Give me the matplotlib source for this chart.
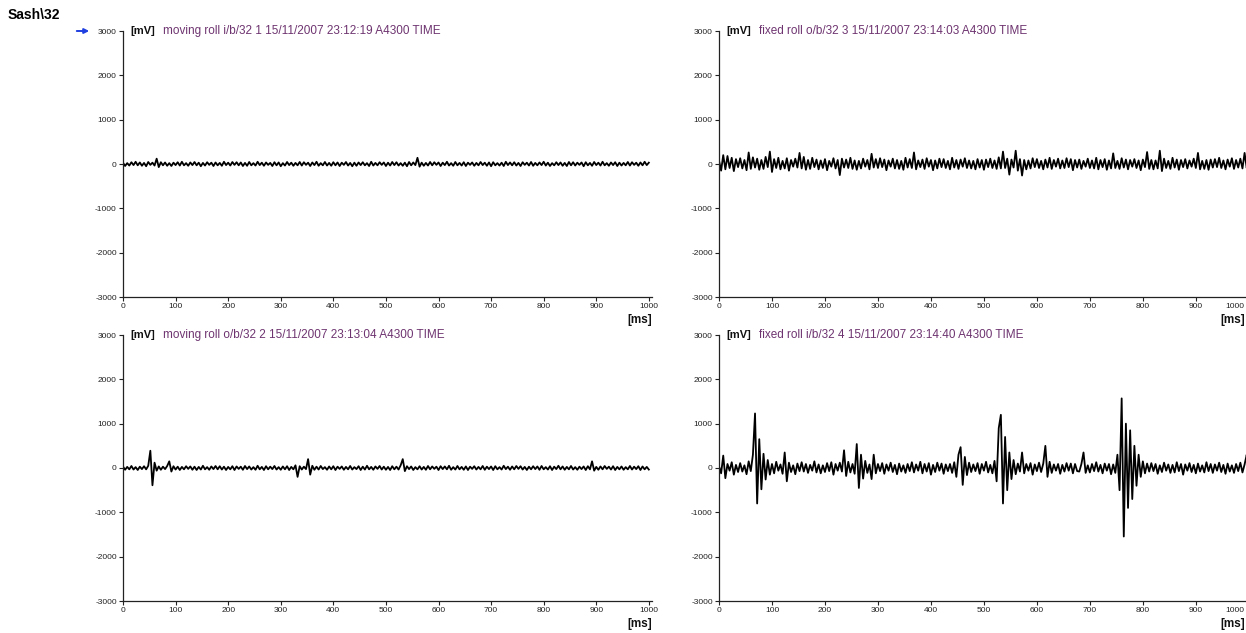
import numpy as np
import matplotlib
matplotlib.use("Agg")
import matplotlib.pyplot as plt

plt.rcParams["font.family"] = ["Liberation Sans", "DejaVu Sans"]
plt.rcParams["axes.unicode_minus"] = False

fig_title = "Sash\\32"
x_ticks = list(range(0, 1001, 100))
y_ticks = [-3000, -2000, -1000, 0, 1000, 2000, 3000]

titles = [
    "moving roll i/b/32 1 15/11/2007 23:12:19 A4300 TIME",
    "fixed roll o/b/32 3 15/11/2007 23:14:03 A4300 TIME",
    "moving roll o/b/32 2 15/11/2007 23:13:04 A4300 TIME",
    "fixed roll i/b/32 4 15/11/2007 23:14:40 A4300 TIME",
]

moving_ib_1 = [
    30, -45, 20, -35, 40, -25, 50, -30, 35, -40,
    25, -50, 45, -20, 30, -35, 120, -70, 40, -30,
    35, -40, 20, -45, 30, -25, 40, -35, 50, -30,
    20, -40, 35, -25, 45, -30, 30, -50, 25, -35,
    40, -20, 30, -45, 35, -30, 25, -40, 50, -25,
    30, -35, 45, -20, 40, -30, 35, -45, 25, -40,
    45, -30, 20, -35, 50, -25, 30, -40, 35, -20,
    25, -45, 40, -30, 35, -50, 20, -35, 45, -25,
    30, -40, 25, -30, 45, -35, 40, -20, 30, -45,
    35, -25, 50, -40, 20, -30, 45, -35, 25, -40,
    40, -30, 35, -45, 30, -20, 45, -35, 25, -50,
    30, -40, 35, -25, 40, -30, 20, -45, 50, -35,
    25, -30, 40, -20, 35, -45, 30, -35, 45, -25,
    40, -35, 20, -40, 30, -50, 45, -30, 35, -25,
    140, -60, 30, -40, 25, -35, 45, -30, 40, -20,
    35, -45, 30, -25, 50, -35, 20, -40, 45, -30,
    25, -35, 40, -45, 30, -20, 35, -40, 25, -30,
    45, -25, 30, -40, 35, -50, 40, -30, 20, -35,
    30, -45, 50, -25, 35, -30, 40, -35, 25, -45,
    40, -20, 30, -35, 45, -40, 25, -30, 35, -25,
    50, -35, 30, -45, 20, -30, 40, -25, 35, -40,
    25, -45, 45, -30, 40, -35, 30, -20, 35, -50,
    40, -30, 25, -40, 45, -25, 30, -35, 50, -30,
    20, -40, 35, -25, 40, -45, 30, -35, 25, -30,
    45, -35, 40, -20, 30, -40, 35, -30, 50, -25,
    30,
]

fixed_ob_3 = [
    80, -150, 200, -120, 180, -90, 140, -160, 110, -70,
    130, -100, 90, -140, 260, -110, 150, -80, 120, -130,
    90, -110, 160, -70, 280, -180, 110, -90, 140, -120,
    70, -100, 130, -150, 90, -60, 120, -80, 250, -100,
    160, -130, 90, -110, 140, -70, 100, -120, 80, -90,
    110, -140, 70, -60, 130, -100, 90, -250, 120, -80,
    100, -90, 140, -110, 80, -130, 70, -100, 120, -60,
    90, -120, 230, -80, 110, -90, 130, -70, 100, -140,
    80, -60, 120, -100, 90, -110, 70, -130, 140, -80,
    110, -90, 260, -120, 80, -70, 100, -110, 130, -60,
    90, -140, 80, -100, 120, -70, 110, -90, 70, -120,
    140, -80, 90, -110, 100, -60, 130, -90, 80, -100,
    70, -120, 110, -80, 90, -130, 100, -70, 120, -90,
    80, -110, 150, -100, 280, -90, 120, -240, 100, -80,
    300, -150, 110, -260, 90, -120, 80, -100, 130, -70,
    110, -90, 70, -120, 100, -80, 140, -110, 90, -60,
    120, -100, 80, -90, 130, -70, 110, -140, 90, -80,
    100, -110, 70, -60, 120, -90, 80, -100, 140, -120,
    90, -70, 110, -130, 80, -100, 240, -90, 70, -110,
    130, -80, 100, -120, 90, -60, 110, -90, 80, -140,
    100, -70, 270, -110, 90, -120, 80, -100, 300, -160,
    120, -90, 70, -110, 140, -80, 100, -130, 90, -70,
    110, -100, 80, -60, 120, -90, 250, -120, 70, -110,
    90, -130, 100, -80, 110, -70, 140, -90, 80, -120,
    100, -60, 130, -110, 90, -80, 120, -100, 250, -90,
    110,
]

moving_ob_2 = [
    35, -40, 25, -30, 45, -35, 20, -45, 30, -25,
    40, -30, 50, 390, -390, 120, -60, 35, -40, 30,
    -25, 45, 150, -80, 40, -35, 30, -45, 25, -30,
    40, -20, 35, -40, 30, -45, 25, -35, 50, -30,
    20, -40, 35, -25, 45, -30, 40, -35, 30, -45,
    25, -30, 40, -45, 35, -20, 30, -40, 45, -25,
    35, -35, 20, -40, 50, -30, 25, -45, 40, -30,
    30, -25, 45, -35, 20, -40, 35, -30, 40, -45,
    25, -30, 60, -200, 40, -35, 30, -25, 200, -150,
    50, -40, 30, -35, 45, -25, 20, -40, 35, -30,
    40, -45, 30, -20, 35, -40, 25, -30, 45, -35,
    20, -25, 40, -45, 30, -35, 50, -30, 25, -40,
    35, -20, 45, -35, 30, -40, 25, -45, 40, -30,
    30, -35, 60, 200, -70, 40, -25, 35, -45, 20,
    -30, 40, -35, 25, -40, 45, -30, 35, -20, 30,
    -45, 40, -25, 35, -30, 50, -40, 20, -35, 45,
    -30, 25, -40, 35, -45, 30, -20, 40, -35, 25,
    -30, 45, -40, 30, -25, 35, -45, 40, -30, 20,
    -35, 50, -25, 30, -40, 35, -30, 45, -20, 40,
    -35, 25, -45, 30, -30, 40, -25, 35, -40, 45,
    -30, 20, -35, 40, -45, 30, -25, 50, -30, 35,
    -40, 25, -30, 45, -35, 20, -40, 30, -25, 35,
    -45, 40, -30, 150, -60, 25, -40, 35, -30, 45,
    -20, 30, -35, 40, -45, 25, -30, 35, -40, 20,
    -30, 45, -35, 30, -25, 40, -45, 35, -30, 25,
    -35,
]

fixed_ib_4 = [
    40, -120, 280, -230, 90, -60, 130, -150, 70, -90,
    110, -80, 60, -140, 150, -70, 300, 1230, -800, 650,
    -480, 320, -260, 180, -150, 90, -120, 140, -60, 80,
    -130, 350, -300, 120, -90, 60, -140, 100, -70, 130,
    -80, 90, -110, 70, -60, 150, -100, 80, -120, 60,
    -90, 110, -70, 130, -150, 90, -60, 120, -80, 400,
    -180, 140, -100, 90, -130, 540, -450, 300, -240, 160,
    -110, 80, -250, 300, -120, 90, -70, 110, -130, 80,
    -60, 120, -90, 70, -140, 100, -80, 60, -110, 90,
    -70, 130, -100, 80, -60, 140, -120, 90, -80, 110,
    -150, 70, -90, 120, -60, 100, -130, 80, -70, 90,
    -110, 130, -200, 300, 470, -380, 250, -160, 120, -90,
    80, -70, 110, -130, 90, -60, 140, -100, 70, -120,
    160, -300, 900, 1200, -800, 700, -500, 350, -250, 180,
    -140, 100, -80, 350, -120, 90, -60, 110, -150, 80,
    -70, 120, -90, 100, 500, -200, 140, -110, 80, -60,
    90, -130, 70, -80, 110, -60, 100, -120, 90, -70,
    -80, 90, 350, -110, 60, -100, 90, -70, 130, -80,
    70, -120, 100, -60, 90, -140, 80, -110, 300, -500,
    1570, -1545, 1000, -900, 850, -700, 500, -400, 300, -200,
    150, -120, 100, -80, 110, -70, 90, -130, 60, -90,
    120, -60, 80, -110, 70, -100, 130, -70, 90, -150,
    80, -60, 110, -90, 70, -120, 100, -80, 60, -100,
    130, -70, 90, -110, 80, -60, 120, -90, 70, -130,
    100, -80, 60, -110, 90, -70, 120, -100, 80, 300,
    -60,
]

series = [moving_ib_1, fixed_ob_3, moving_ob_2, fixed_ib_4]

W, H = 1246, 633
title_color = "#6e3470"


def configure_axes(ax):
    """Common axis configuration, scope-trace look"""
    ax.set_xlim(0, 1006)
    ax.set_ylim(-3000, 3000)
    ax.set_xticks(x_ticks)
    ax.set_yticks(y_ticks)
    ax.tick_params(labelsize=6, length=3, width=0.8, pad=1.5, colors="#222222")
    for spine in ["top", "right"]:
        ax.spines[spine].set_visible(False)
    for spine in ["left", "bottom"]:
        ax.spines[spine].set_linewidth(0.9)
        ax.spines[spine].set_color("#222222")
    ax.patch.set_alpha(0)


fig = plt.figure(figsize=(W / 100, H / 100), dpi=100)

# panel positions in pixels: (left, top, right, bottom)
boxes = [
    (123, 31, 652, 297),
    (719, 31, 1252, 297),
    (123, 335, 652, 601),
    (719, 335, 1252, 601),
]

for (l, t, r, b), vals, title in zip(boxes, series, titles):
    ax = fig.add_axes([l / W, 1 - b / H, (r - l) / W, (b - t) / H])
    configure_axes(ax)
    times = np.linspace(0, 1000, len(vals))
    ax.plot(times, vals, color="black", linewidth=1.3)

    if r > W:
        # the 1000 tick falls past the picture's edge: show its label inside
        ax.set_xticklabels([str(v) for v in x_ticks[:-1]] + [""])
        fig.text((W - 2) / W, 1 - (b + 6) / H, str(x_ticks[-1]), ha="right",
                 va="top", fontsize=6, color="#222222")

    ax.annotate("[mV]", xy=(0, 1), xycoords="axes fraction", xytext=(7, 0),
                textcoords="offset pixels", va="center", fontsize=8,
                fontweight="bold", color="#111111")
    ax.annotate(title, xy=(0, 1), xycoords="axes fraction", xytext=(40, 0),
                textcoords="offset pixels", va="center", fontsize=8.5,
                color=title_color)

    ms_x = min(r, W - 1)
    fig.text(ms_x / W, 1 - (b + 23) / H, "[ms]", ha="right", va="center",
             fontsize=8.5, fontweight="bold", color="#111111")

fig.text(8 / W, 1 - 15 / H, fig_title, ha="left", va="center", fontsize=10,
         fontweight="bold")
fig.add_artist(plt.Annotation("", xy=(92, H - 31), xytext=(74, H - 31),
                              xycoords="figure pixels",
                              arrowprops=dict(arrowstyle="-|>", color="#1f3fe0",
                                              lw=1.4, mutation_scale=7)))

fig.savefig("out.png", dpi=100)
